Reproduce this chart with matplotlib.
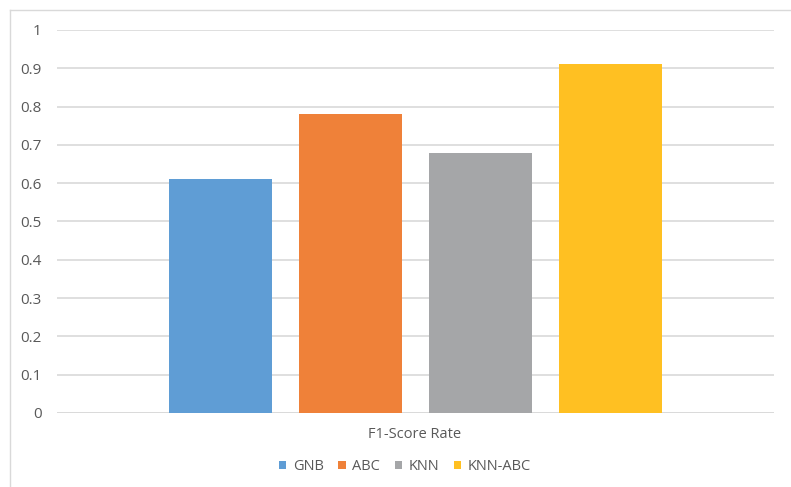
import numpy as np
import matplotlib.pyplot as plt
from matplotlib.lines import Line2D

# data
models = ["GNB", "ABC", "KNN", "KNN-ABC"]
f1_scores = [0.61, 0.78, 0.68, 0.91]
colors = ["#5F9DD5", "#EF8139", "#A5A6A8", "#FFC022"]
category = "F1-Score Rate"
y_ticks = [0, 0.1, 0.2, 0.3, 0.4, 0.5, 0.6, 0.7, 0.8, 0.9, 1]
y_labels = ["0", "0.1", "0.2", "0.3", "0.4", "0.5", "0.6", "0.7", "0.8", "0.9", "1"]

plt.rcParams["font.family"] = ["Open Sans", "DejaVu Sans"]
txt = "#595959"
grid = "#D9D9D9"

fig = plt.figure(figsize=(7.91, 4.87), dpi=100)
ax = fig.add_axes([0.0721, 0.1520, 0.9064, 0.7864])

step = 0.1813
width = 0.1436
offsets = (np.arange(len(models)) - (len(models) - 1) / 2) * step
bars = []
for off, val, col, name in zip(offsets, f1_scores, colors, models):
    b = ax.bar(off, val, width, color=col, label=name, zorder=3)
    bars.append(b)

ax.set_xlim(-0.5, 0.5)
ax.set_ylim(0, 1)
ax.set_yticks(y_ticks)
ax.set_yticklabels(y_labels)
ax.set_xticks([])
ax.yaxis.grid(True, color=grid, linewidth=1.2, zorder=0)
ax.axhline(0, color=grid, linewidth=1.2, zorder=2)
for s in ax.spines.values():
    s.set_visible(False)
ax.tick_params(axis="y", length=0, pad=11, labelsize=11, labelcolor=txt)

fig.text(415 / 791, 1 - 434 / 487, category, ha="center", va="center",
         fontsize=10.5, color=txt)

fig.legend(handles=bars, labels=models, loc="center",
           bbox_to_anchor=(405 / 791, 1 - 467 / 487), ncol=4, frameon=False,
           handlelength=0.5, handleheight=0.5, handletextpad=0.45,
           columnspacing=1.0, fontsize=10.5, labelcolor=txt)

# chart border (cropped on right/bottom)
fig.add_artist(Line2D([10 / 791, 1], [1 - 10 / 487, 1 - 10 / 487],
                      transform=fig.transFigure, color=grid, linewidth=1))
fig.add_artist(Line2D([10 / 791, 10 / 791], [0, 1 - 10 / 487],
                      transform=fig.transFigure, color=grid, linewidth=1))

fig.savefig("out.png", dpi=100)
